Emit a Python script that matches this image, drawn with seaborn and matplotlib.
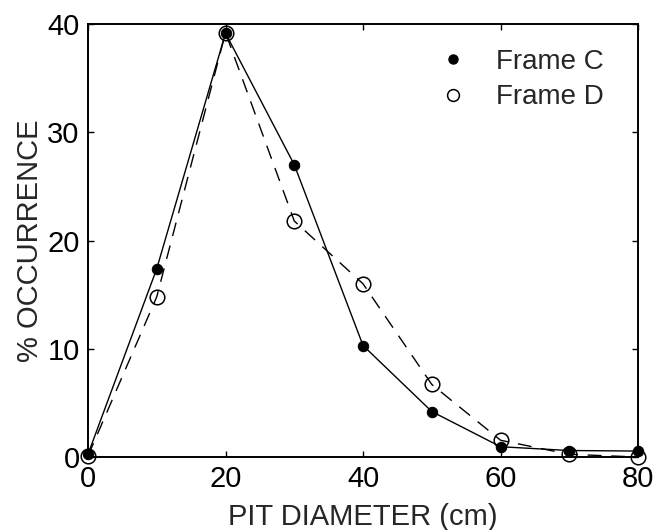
import matplotlib
matplotlib.use("Agg")
import matplotlib.pyplot as plt
from matplotlib.lines import Line2D
import numpy as np
import pandas as pd
import seaborn as sns

# Pit diameter bins (cm) and percentage occurrence for each frame
diameter = [0, 10, 20, 30, 40, 50, 60, 70, 80]
frame_c = [0.25, 17.4, 39.15, 27.0, 10.3, 4.2, 0.95, 0.6, 0.55]
frame_d = [0.1, 14.8, 39.2, 21.8, 16.0, 6.7, 1.55, 0.25, 0.0]

xticks = [0, 20, 40, 60, 80]
yticks = [0, 10, 20, 30, 40]

df_c = pd.DataFrame({"diameter": diameter, "occurrence": frame_c})
df_d = pd.DataFrame({"diameter": diameter, "occurrence": frame_d})

sns.set_style("ticks")
plt.rcParams["font.family"] = ["Liberation Sans", "DejaVu Sans"]

fig = plt.figure(figsize=(6.64, 5.30), dpi=100)
ax = fig.add_axes([0.1325, 0.1377, 0.8285, 0.817])

# Frame D: open circles joined by a dashed line
sns.lineplot(data=df_d, x="diameter", y="occurrence", ax=ax, color="black",
             lw=1.0, dashes=False, linestyle=(0, (10, 7)), marker="o",
             markersize=10.5, markerfacecolor="none", markeredgecolor="black",
             markeredgewidth=1.1, clip_on=False, zorder=3)
# Frame C: filled dots joined by a solid line
sns.lineplot(data=df_c, x="diameter", y="occurrence", ax=ax, color="black",
             lw=1.0, marker="o", markersize=7.5, markerfacecolor="black",
             markeredgecolor="black", clip_on=False, zorder=4)

ax.set_xlim(0, 80)
ax.set_ylim(0, 40)
ax.set_xticks(xticks)
ax.set_yticks(yticks)
ax.set_xticklabels([str(t) for t in xticks])
ax.set_yticklabels([str(t) for t in yticks])

for side in ["top", "right", "bottom", "left"]:
    ax.spines[side].set_visible(True)
    ax.spines[side].set_linewidth(1.4)
    ax.spines[side].set_color("black")

ax.tick_params(direction="in", length=4, width=1.0, labelsize=21, pad=6,
               top=True, right=True, colors="black")

ax.set_xlabel("PIT DIAMETER (cm)", fontsize=21, labelpad=7)
ax.set_ylabel("% OCCURRENCE", fontsize=21, labelpad=2)

handles = [
    Line2D([], [], linestyle="none", marker="o", markersize=6.5,
           markerfacecolor="black", markeredgecolor="black"),
    Line2D([], [], linestyle="none", marker="o", markersize=8.5,
           markerfacecolor="none", markeredgecolor="black", markeredgewidth=1.1),
]
ax.legend(handles, ["Frame C", "Frame D"], loc="upper right", frameon=False,
          fontsize=20, handlelength=1.0, handletextpad=1.05, labelspacing=0.34,
          borderaxespad=0.0, bbox_to_anchor=(0.958, 0.968))

fig.savefig("out.png", dpi=100)
